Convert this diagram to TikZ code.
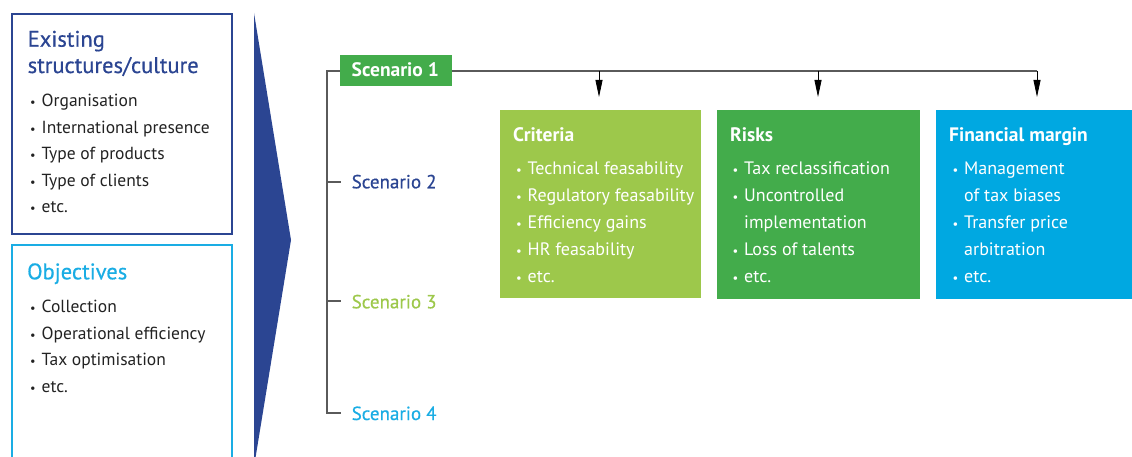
\documentclass[tikz,border=0pt]{standalone}
\usepackage{fontspec}
\setmainfont{PT Sans}
\newfontface\semib{PT Sans}[FakeBold=0.6]
\usetikzlibrary{arrows.meta}
\definecolor{dblue}{HTML}{2B4592}
\definecolor{lblue}{HTML}{1AADE4}
\definecolor{lgreen}{HTML}{9DC84B}
\definecolor{mgreen}{HTML}{43AC4B}
\definecolor{cblue}{HTML}{00A8E1}
\definecolor{linegray}{HTML}{5A5A5A}
\definecolor{txt}{HTML}{222222}
\newcommand{\bl}{\makebox[11.5pt][l]{\scalebox{0.7}{\textbullet}}}
\begin{document}
\begin{tikzpicture}[x=1pt,y=-1pt,
  item/.style={anchor=base west, inner sep=0pt, font=\fontsize{18}{21}\selectfont},
  ltitle/.style={anchor=base west, inner sep=0pt, font=\semib\fontsize{22.5}{25}\selectfont},
  btitle/.style={anchor=base west, inner sep=0pt, text=white, font=\bfseries\fontsize{19.5}{22}\selectfont},
  witem/.style={item, text=white},
  citem/.style={item, text=txt, font=\fontsize{17.5}{21}\selectfont},
  cbox/.style={anchor=north west, inner sep=0pt},
  scen/.style={anchor=base west, inner sep=0pt, font=\semib\fontsize{19}{21}\selectfont},
  conn/.style={linegray, line width=1.1pt},
  arr/.style={black, line width=0.8pt, -{Triangle[length=17pt, width=7pt]}, shorten >=13pt}
]
\useasboundingbox (0,0) rectangle (1132,457);

% left boxes
\node[cbox, draw=dblue, line width=1.6pt, minimum width=220pt, minimum height=220pt] (exist) at (11,13) {};
\node[cbox, draw=lblue, line width=1.6pt, minimum width=220pt, minimum height=230pt] (obj) at (11,244) {};

\node[ltitle, text=dblue] (t1a) at (27.5,46.7) {Existing};
\node[ltitle, text=dblue] (t1b) at (27.5,73) {structures/culture};
\node[citem] (e1) at (30,107) {\bl Organisation};
\node[citem] (e2) at (30,134) {\bl International presence};
\node[citem] (e3) at (30,160) {\bl Type of products};
\node[citem] (e4) at (30,187) {\bl Type of clients};
\node[citem] (e5) at (30,213) {\bl etc.};

\node[ltitle, text=lblue] (t2) at (27,279.3) {Objectives};
\node[citem] (o1) at (30,312) {\bl Collection};
\node[citem] (o2) at (30,339) {\bl Operational efficiency};
\node[citem] (o3) at (30,365) {\bl Tax optimisation};
\node[citem] (o4) at (30,392) {\bl etc.};

% big arrow
\fill[dblue] (254,13) -- (291,240) -- (254,467) -- cycle;

% scenario tree
\coordinate (top) at (327,71);
\coordinate (bot) at (327,413);
\coordinate (a1) at (599,71);
\coordinate (a2) at (818,71);
\coordinate (a3) at (1037,71);
\draw[conn] (a3) -- (top) -- (bot) -- ++(14,0);
\draw[conn] (327,182) -- ++(14,0);
\draw[conn] (327,301) -- ++(14,0);

\node[fill=mgreen, inner sep=0pt, minimum width=112pt, minimum height=31pt] (s1) at (396,70.5) {};
\node[btitle] (s1t) at (351.5,77) {Scenario 1};
\node[scen, text=dblue] (s2) at (351.5,188.3) {Scenario 2};
\node[scen, text=lgreen] (s3) at (351.5,308.3) {Scenario 3};
\node[scen, text=lblue] (s4) at (351.5,420) {Scenario 4};

% coloured boxes
\node[cbox, fill=lgreen, minimum width=201pt, minimum height=188pt] (crit) at (500,110) {};
\node[cbox, fill=mgreen, minimum width=203pt, minimum height=189pt] (risk) at (717,110) {};
\node[cbox, fill=cblue, minimum width=196pt, minimum height=189pt] (fin) at (936,110) {};

\draw[arr] (a1) -- (a1 |- crit.north);
\draw[arr] (a2) -- (a2 |- risk.north);
\draw[arr] (a3) -- (a3 |- fin.north);

\node[btitle] (ct) at (513,141.5) {Criteria};
\node[witem] (c1) at (516,174.5) {\bl Technical feasability};
\node[witem] (c2) at (516,201.5) {\bl Regulatory feasability};
\node[witem] (c3) at (516,228.5) {\bl Efficiency gains};
\node[witem] (c4) at (516,255) {\bl HR feasability};
\node[witem] (c5) at (516,282) {\bl etc.};

\node[btitle] (rt) at (730,141.5) {Risks};
\node[witem] (r1) at (732.5,175) {\bl Tax reclassification};
\node[witem] (r2) at (732.5,202) {\bl Uncontrolled};
\node[witem] (r2b) at (744,229) {implementation};
\node[witem] (r3) at (732.5,255) {\bl Loss of talents};
\node[witem] (r4) at (732.5,282) {\bl etc.};

\node[btitle] (ft) at (949,141.5) {Financial margin};
\node[witem] (f1) at (952.5,175) {\bl Management};
\node[witem] (f1b) at (964,202) {of tax biases};
\node[witem] (f2) at (952.5,229) {\bl Transfer price};
\node[witem] (f2b) at (964,255) {arbitration};
\node[witem] (f3) at (952.5,282) {\bl etc.};
\end{tikzpicture}
\end{document}
